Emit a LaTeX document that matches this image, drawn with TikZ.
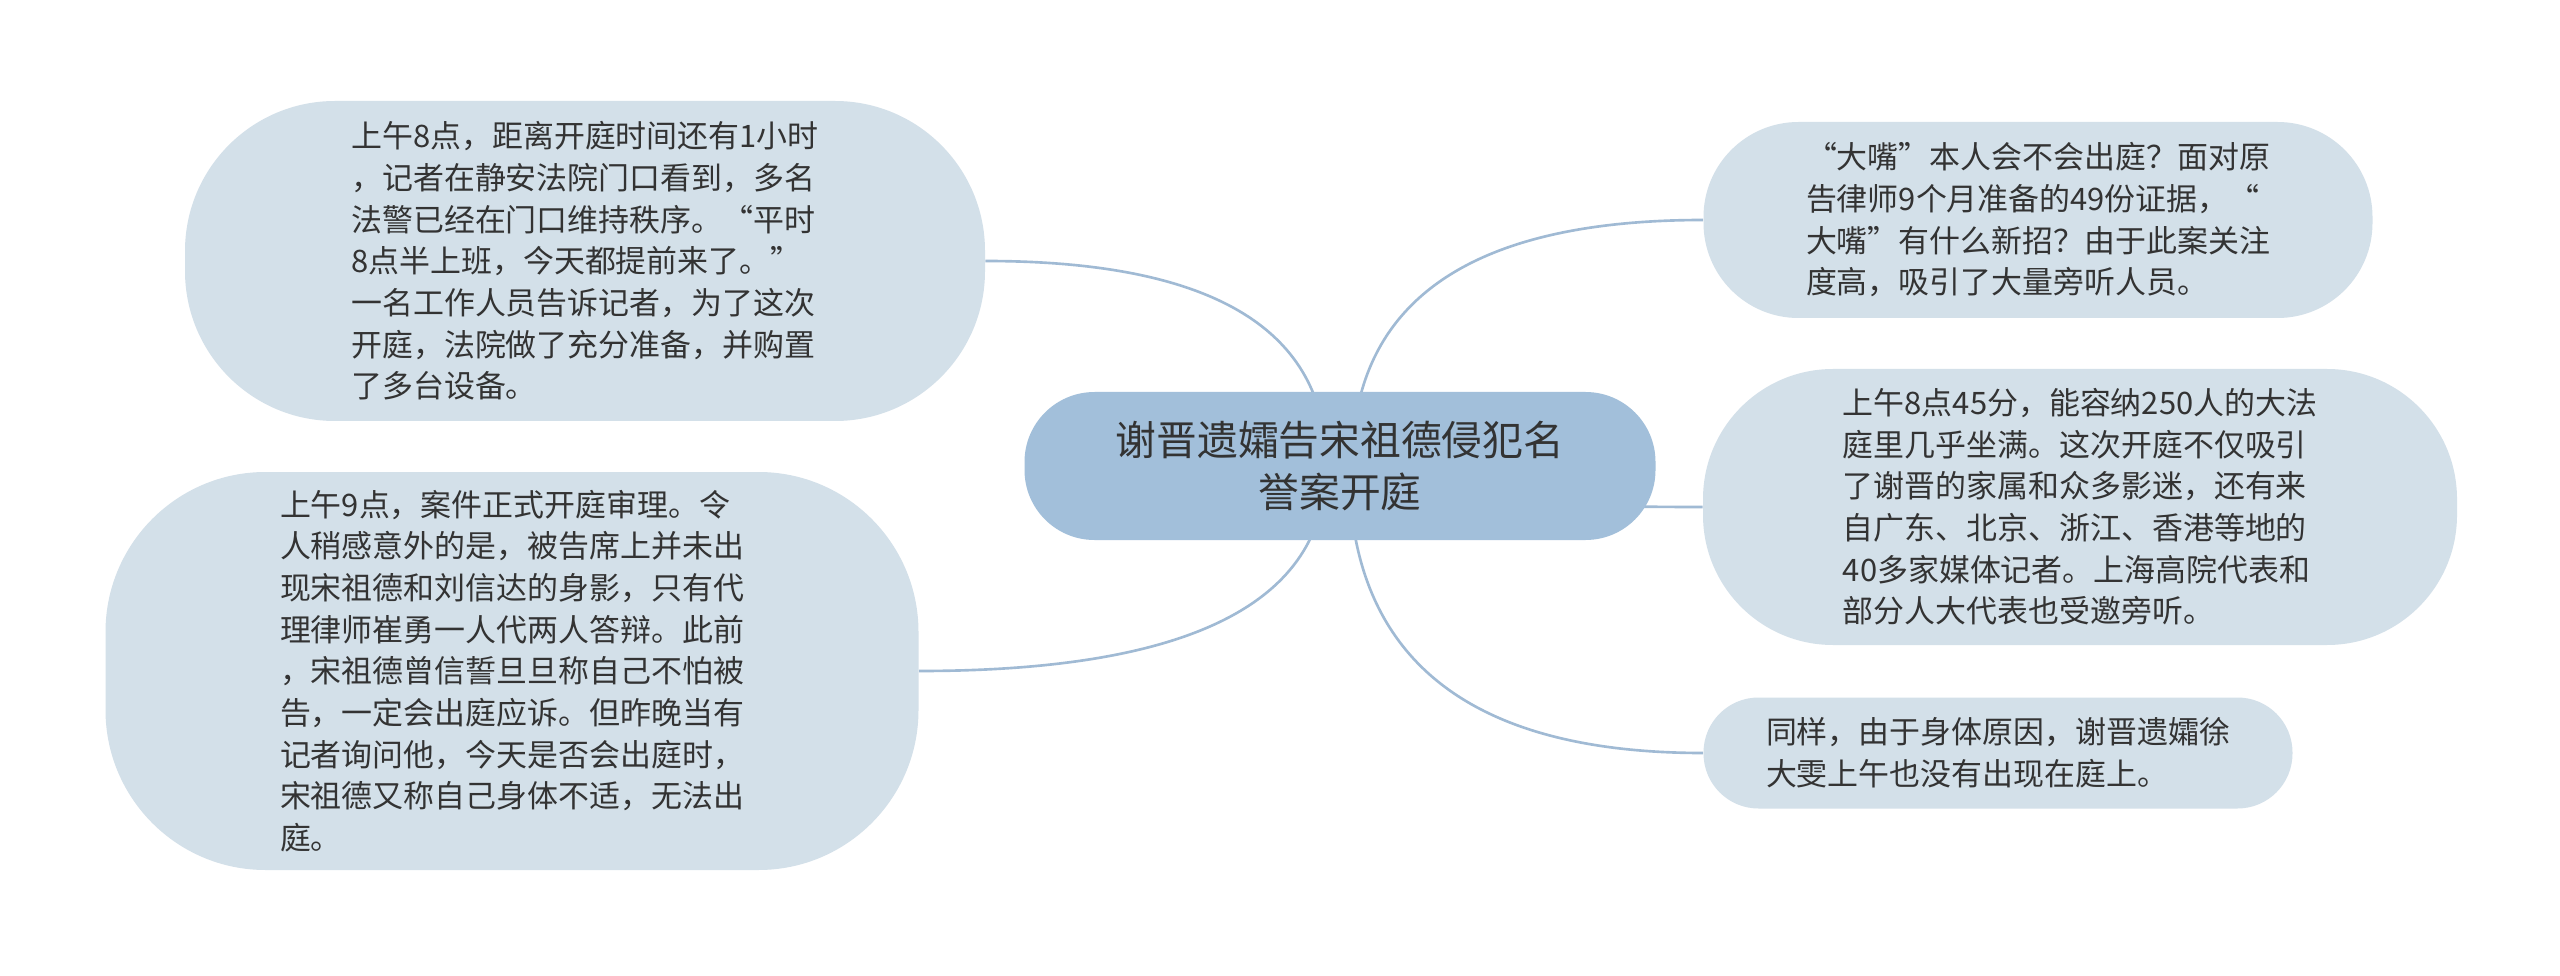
\documentclass[tikz,border=0pt]{standalone}
\usepackage{fontspec}
\setmainfont{Noto Sans CJK SC}
\usetikzlibrary{backgrounds, calc}
\usepackage{xcolor}
\definecolor{RootBlue}{HTML}{A2BFDA}
\definecolor{LeafBlue}{HTML}{D3E0E9}
\definecolor{LinkBlue}{HTML}{A0BAD4}
\definecolor{Ink}{HTML}{333333}

\begin{document}
\begin{tikzpicture}[
    rootbox/.style={
        fill=RootBlue, rounded corners=1.4cm, minimum width=12.62cm,
        minimum height=2.96cm, align=center, text=Ink,
        font=\fontsize{23.2}{30}\selectfont
    },
    leafbox/.style={
        fill=LeafBlue, align=left, text=Ink, inner sep=0pt,
        font=\fontsize{17.6}{23.7}\selectfont
    },
    link/.style={draw=LinkBlue, line width=1.5pt}
]
\useasboundingbox (0,0) rectangle (51.2,19.5);

% === Central topic ===
\node[rootbox] (root) at (26.80, 10.18)
    {谢晋遗孀告宋祖德侵犯名\\誉案开庭};

% === Left branches ===
\node[leafbox, minimum width=16cm, minimum height=6.4cm, rounded corners=3cm]
    (l1) at (11.70, 14.28)
    {上午8点，距离开庭时间还有1小时\\，记者在静安法院门口看到，多名\\法警已经在门口维持秩序。“平时\\8点半上班，今天都提前来了。”\\一名工作人员告诉记者，为了这次\\开庭，法院做了充分准备，并购置\\了多台设备。};
\node[leafbox, minimum width=16.26cm, minimum height=7.96cm, rounded corners=3.2cm]
    (l2) at (10.24, 6.08)
    {上午9点，案件正式开庭审理。令\\人稍感意外的是，被告席上并未出\\现宋祖德和刘信达的身影，只有代\\理律师崔勇一人代两人答辩。此前\\，宋祖德曾信誓旦旦称自己不怕被\\告，一定会出庭应诉。但昨晚当有\\记者询问他，今天是否会出庭时，\\宋祖德又称自己身体不适，无法出\\庭。};

% === Right branches ===
\node[leafbox, minimum width=13.38cm, minimum height=3.92cm, rounded corners=1.9cm]
    (r1) at (40.76, 15.10)
    {“大嘴”本人会不会出庭？面对原\\告律师9个月准备的49份证据，“\\大嘴”有什么新招？由于此案关注\\度高，吸引了大量旁听人员。};
\node[leafbox, minimum width=15.08cm, minimum height=5.52cm, rounded corners=2.6cm]
    (r2) at (41.60, 9.36)
    {上午8点45分，能容纳250人的大法\\庭里几乎坐满。这次开庭不仅吸引\\了谢晋的家属和众多影迷，还有来\\自广东、北京、浙江、香港等地的\\40多家媒体记者。上海高院代表和\\部分人大代表也受邀旁听。};
\node[leafbox, minimum width=11.78cm, minimum height=2.22cm, rounded corners=1.1cm]
    (r3) at (39.96, 4.44)
    {同样，由于身体原因，谢晋遗孀徐\\大雯上午也没有出现在庭上。};

% === Links (behind the boxes) ===
\begin{scope}[on background layer]
\fill[white] (0,0) rectangle (51.2,19.5);
\foreach \kid/\side/\dx in {l1/east/-0.27, l2/east/-0.28, r1/west/0.24, r2/west/0.24, r3/west/0.18} {
    \coordinate (s) at ($(root.center)+(\dx,0)$);
    \coordinate (c) at (s |- \kid.\side);
    \draw[link] (s) .. controls ($(s)!2/3!(c)$) and ($(\kid.\side)!2/3!(c)$) .. (\kid.\side);
}
\end{scope}

\end{tikzpicture}
\end{document}
